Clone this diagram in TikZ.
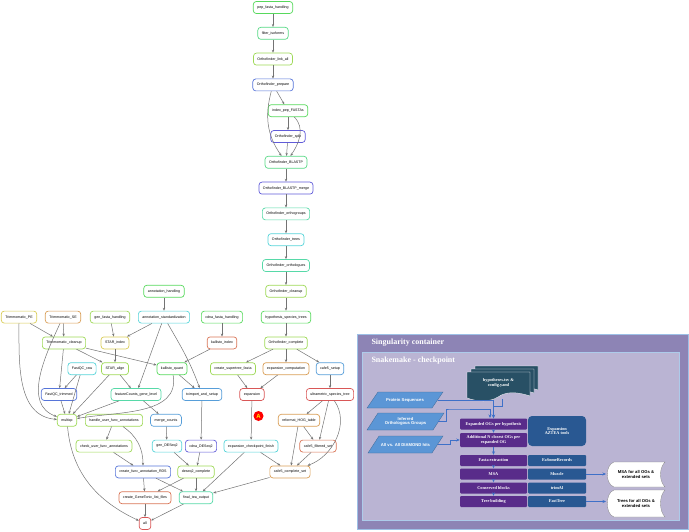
\documentclass[tikz,border=0pt]{standalone}
\usepackage{fontspec}
\newfontfamily\dagfont{Liberation Sans}
\newfontfamily\panelfont{Liberation Serif}
\usetikzlibrary{arrows.meta}

\definecolor{cgreen}{rgb}{0.34,0.85,0.36}
\definecolor{cspring}{rgb}{0.34,0.85,0.52}
\definecolor{caqua}{rgb}{0.34,0.85,0.66}
\definecolor{ccyan}{rgb}{0.34,0.83,0.85}
\definecolor{csky}{rgb}{0.34,0.62,0.85}
\definecolor{cblue}{rgb}{0.34,0.46,0.85}
\definecolor{cindigo}{rgb}{0.38,0.36,0.85}
\definecolor{cyg}{rgb}{0.62,0.85,0.34}
\definecolor{cyellow}{rgb}{0.85,0.80,0.34}
\definecolor{corange}{rgb}{0.85,0.62,0.34}
\definecolor{csalmon}{rgb}{0.85,0.46,0.34}
\definecolor{cred}{rgb}{0.85,0.34,0.34}
\definecolor{dagedge}{rgb}{0.45,0.45,0.45}
\definecolor{outerbg}{RGB}{141,132,181}
\definecolor{innerbg}{RGB}{186,180,211}
\definecolor{stepviolet}{RGB}{89,44,138}
\definecolor{toolblue}{RGB}{41,88,146}
\definecolor{inputblue}{RGB}{91,150,214}
\definecolor{docteal}{RGB}{40,80,101}
\definecolor{flowblue}{RGB}{62,112,200}

\tikzset{
  job/.style={draw=#1, line width=0.7pt, rounded corners=3pt, fill=white,
    font=\dagfont\fontsize{3.6}{4}\selectfont, minimum height=12pt,
    inner xsep=4pt, inner ysep=0pt},
  dep/.style={draw=dagedge, line width=0.5pt, -{Stealth[length=3pt,width=2.4pt]}},
  stepbox/.style={fill=stepviolet, rounded corners=1pt, text=white,
    font=\panelfont\bfseries\fontsize{4.3}{4.8}\selectfont, align=center,
    minimum width=67pt, minimum height=11pt, inner sep=0pt},
  toolbox/.style={stepbox, fill=toolblue, minimum width=58pt},
  inputshape/.style={fill=inputblue, draw=inputblue!70!black, line width=0.3pt},
  inputtext/.style={text=white, font=\dagfont\bfseries\fontsize{4.2}{4.8}\selectfont,
    align=center, minimum width=65pt, inner sep=0pt},
  outputbox/.style={text=black, font=\dagfont\bfseries\fontsize{4.2}{5}\selectfont,
    align=center},
  flow/.style={draw=flowblue, line width=0.6pt, -{Stealth[length=3.5pt,width=3pt]}},
}

\begin{document}
\begin{tikzpicture}[x=1pt,y=-1pt]
  \useasboundingbox (0,0) rectangle (689,532);

  \node[job=cgreen] (pepfasta) at (273,7.5) {pep\_fasta\_handling};
  \node[job=cspring] (filteriso) at (273,33.3) {filter\_isoforms};
  \node[job=cyg] (linkall) at (273,59.1) {Orthofinder\_link\_all};
  \node[job=cblue] (prepare) at (273,84.9) {Orthofinder\_prepare};
  \node[job=cgreen] (indexpep) at (288,110.7) {index\_pep\_FASTAs};
  \node[job=cindigo] (split) at (288,136.5) {Orthofinder\_split};
  \node[job=cspring] (blastp) at (286,162.3) {Orthofinder\_BLASTP};
  \node[job=cindigo] (merge) at (286,188.1) {Orthofinder\_BLASTP\_merge};
  \node[job=caqua] (ogroups) at (286,213.9) {Orthofinder\_orthogroups};
  \node[job=ccyan] (trees) at (286,239.7) {Orthofinder\_trees};
  \node[job=caqua] (ologues) at (286,265.5) {Orthofinder\_orthologues};
  \node[job=cyg] (cleanup) at (286,291.3) {Orthofinder\_cleanup};
  \node[job=cgreen] (hyptrees) at (286,317.1) {hypothesis\_species\_trees};
  \node[job=cyg] (complete) at (286,342.9) {Orthofinder\_complete};

  \node[job=cgreen] (annohand) at (164,291.3) {annotation\_handling};
  \node[job=ccyan] (annostd) at (164,317.1) {annotation\_standardization};
  \node[job=cyellow] (trimpe) at (19,317.1) {Trimmomatic\_PE};
  \node[job=corange] (trimse) at (63,317.1) {Trimmomatic\_SE};
  \node[job=cyg] (genfasta) at (110,317.1) {gen\_fasta\_handling};
  \node[job=cgreen] (cdnafasta) at (222,317.1) {cdna\_fasta\_handling};

  \node[job=cyg] (trimclean) at (64,342.9) {Trimmomatic\_cleanup};
  \node[job=cyellow] (starindex) at (115,342.9) {STAR\_index};
  \node[job=csalmon] (kalindex) at (222,342.9) {kallisto\_index};

  \node[job=ccyan] (fastqcraw) at (82,368.7) {FastQC\_raw};
  \node[job=cyg] (staralign) at (115,368.7) {STAR\_align};
  \node[job=cgreen] (kalquant) at (172,368.7) {kallisto\_quant};
  \node[job=cyg] (supertree) at (233,368.7) {create\_supertree\_fasta};
  \node[job=corange] (expcomp) at (286,368.7) {expansion\_computation};
  \node[job=csky] (cafesetup) at (330,368.7) {cafe5\_setup};

  \node[job=cblue] (fastqctrim) at (59,394.5) {FastQC\_trimmed};
  \node[job=caqua] (featcounts) at (136,394.5) {featureCounts\_gene\_level};
  \node[job=csky] (tximport) at (202,394.5) {tximport\_and\_setup};
  \node[job=cred] (expansion) at (252,394.5) {expansion};
  \node[job=cred] (ultra) at (330,394.5) {ultrametric\_species\_tree};

  \node[job=cyg] (multiqc) at (67,420.3) {multiqc};
  \node[job=cyg] (handleuser) at (114,420.3) {handle\_user\_func\_annotations};
  \node[job=csky] (mergecounts) at (166,420.3) {merge\_counts};
  \node[job=corange] (reformat) at (299,420.3) {reformat\_HOG\_table};

  \node[job=cyg] (checkuser) at (104,446.1) {check\_user\_func\_annotations};
  \node[job=ccyan] (gendeseq) at (167,446.1) {gen\_DESeq2};
  \node[job=cindigo] (cdnadeseq) at (201,446.1) {cdna\_DESeq2};
  \node[job=ccyan] (expfinish) at (251,446.1) {expansion\_checkpoint\_finish};
  \node[job=csalmon] (cafefilt) at (318,446.1) {cafe5\_filtered\_set};

  \node[job=cblue] (funcrds) at (143,471.9) {create\_func\_annotation\_RDS};
  \node[job=cyg] (deseqcomp) at (196,471.9) {deseq2\_complete};
  \node[job=corange] (cafecomp) at (290,471.9) {cafe5\_complete\_set};

  \node[job=csalmon] (genetonic) at (145,497.7) {create\_GeneTonic\_list\_files};
  \node[job=caqua] (finaltea) at (196,497.7) {final\_tea\_output};
  \node[job=cred] (all) at (145,523.5) {all};

  \foreach \a/\b in {pepfasta/filteriso, filteriso/linkall, linkall/prepare,
      prepare/indexpep, indexpep/split, split/blastp, blastp/merge,
      merge/ogroups, ogroups/trees, trees/ologues, ologues/cleanup,
      cleanup/hyptrees, hyptrees/complete, complete/supertree,
      complete/expcomp, complete/cafesetup, supertree/expansion,
      expcomp/expansion, cafesetup/ultra, expansion/expfinish,
      ultra/reformat, ultra/cafefilt, reformat/cafefilt, reformat/cafecomp,
      cafefilt/cafecomp, expfinish/cafecomp, expfinish/finaltea,
      cafecomp/finaltea, annohand/annostd, annostd/starindex,
      annostd/featcounts, genfasta/starindex, starindex/staralign,
      trimpe/trimclean, trimse/trimclean, trimclean/fastqctrim,
      trimclean/staralign, trimclean/kalquant, fastqcraw/fastqctrim,
      fastqcraw/multiqc, fastqctrim/multiqc, staralign/multiqc,
      staralign/featcounts, featcounts/multiqc, featcounts/mergecounts,
      cdnafasta/kalindex, kalindex/kalquant, kalquant/tximport,
      mergecounts/gendeseq, gendeseq/deseqcomp, tximport/cdnadeseq,
      cdnadeseq/deseqcomp, deseqcomp/finaltea, deseqcomp/genetonic,
      handleuser/checkuser, checkuser/funcrds, funcrds/genetonic,
      funcrds/finaltea, genetonic/all, finaltea/all}
    \draw[dep] (\a) -- (\b);

  \draw[dep] (prepare) to[out=-105,in=125] (blastp);
  \draw[dep] (indexpep) to[out=-45,in=55] (blastp);
  \draw[dep] (ultra) to[out=-55,in=20] (cafecomp);
  \draw[dep] (trimpe) to[out=-90,in=175] (multiqc);
  \draw[dep] (trimse) to[out=-115,in=160] (multiqc);
  \draw[dep] (kalquant) to[out=-80,in=10] (multiqc);
  \draw[dep] (annostd) to[out=-60,in=110] (tximport);
  \draw[dep] (handleuser) to[out=-35,in=90] (funcrds);
  \draw[dep] (multiqc) to[out=-85,in=155] (all);

  \node[circle, fill=red, text=yellow, inner sep=0pt, minimum size=10pt,
    font=\dagfont\bfseries\fontsize{6}{6}\selectfont] (marka) at (258.5,416) {A};

  % singularity panel
  \filldraw[fill=outerbg, draw=inputblue!60, line width=0.5pt] (357,334) rectangle (688,529);
  \node[anchor=west, text=white, font=\panelfont\bfseries\fontsize{8}{9}\selectfont]
    (singtitle) at (368,343) {Singularity container};
  \filldraw[fill=innerbg, draw=inputblue!50, line width=0.5pt] (362,352) rectangle (679,520);
  \node[anchor=west, text=white, font=\panelfont\bfseries\fontsize{8}{9}\selectfont]
    (snaketitle) at (368,361) {Snakemake - checkpoint};

  \foreach \d in {8,4,0}
    \filldraw[fill=docteal, draw=white, line width=0.3pt, shift={(\d,-0.75*\d)}]
      (467,372) -- (530,372) -- (530,396)
      .. controls (515,391) and (505,392) .. (498,397)
      .. controls (490,402) and (478,402) .. (467,398) -- cycle;
  \node[text=white, align=center, font=\panelfont\bfseries\fontsize{4.3}{5}\selectfont]
    (hyptext) at (498.5,383) {hypotheses.tsv \&\\config.yaml};
  \coordinate (hypout) at (502,399);

  \filldraw[inputshape] (367,408) -- (378,392) -- (443,392) -- (432,408) -- cycle;
  \node[inputtext] (protseq) at (405,400) {Protein Sequences};
  \filldraw[inputshape] (367,430) -- (378,413) -- (444,413) -- (433,430) -- cycle;
  \node[inputtext] (inferog) at (405.5,421.5) {Inferred\\Orthologous Groups};
  \filldraw[inputshape] (368,453) -- (379,436) -- (443,436) -- (432,453) -- cycle;
  \node[inputtext] (diamond) at (405.5,444.5) {All vs. All DIAMOND hits};

  \node[stepbox] (expog) at (493.5,424) {Expanded OGs per hypothesis};
  \node[stepbox, minimum height=14pt] (addog) at (493.5,440) {Additional N closest OGs per\\expanded OG};
  \node[toolbox, minimum height=30pt, rounded corners=4pt] (aztea) at (557,431) {Expansion\\AZTEA tools};

  \node[stepbox] (fasta) at (493.5,460.5) {Fasta extraction};
  \node[stepbox] (msa) at (493.5,474) {MSA};
  \node[stepbox] (blocks) at (493.5,488) {Conserved blocks};
  \node[stepbox] (treebuild) at (493.5,501.5) {Tree building};
  \node[toolbox] (fasome) at (557,460.5) {FaSomeRecords};
  \node[toolbox] (muscle) at (557,474) {Muscle};
  \node[toolbox] (trimal) at (557,488) {trimAl};
  \node[toolbox] (fasttree) at (557,501.5) {FastTree};

  \filldraw[fill=white, draw=gray, line width=0.3pt]
    (614,462) -- (665,462) .. controls (659,468) and (659,481) .. (665,487)
    -- (614,487) .. controls (605,484) and (605,465) .. (614,462) -- cycle;
  \node[outputbox] (msaout) at (636,474.5) {MSA for all OGs \&\\extended sets};
  \filldraw[fill=white, draw=gray, line width=0.3pt]
    (614,490) -- (665,490) .. controls (659,496) and (659,511) .. (665,517)
    -- (614,517) .. controls (605,514) and (605,493) .. (614,490) -- cycle;
  \node[outputbox] (treeout) at (636,503.5) {Trees for all OGs \&\\extended sets};

  \draw[flow] (hypout) -- (502,406) -| (expog.north);
  \draw[flow] (protseq.east) -- (expog.north |- protseq.east) -- (expog.north);
  \draw[flow] (inferog.east) -- ++(8,0) |- (450,409) -- (490,409) -- (490,418);
  \draw[flow] (diamond.east) -- ++(12,0) |- (addog.west);
  \draw[flow] (expog) -- (addog);
  \draw[flow] (addog) -- (fasta);
  \draw[flow] (fasta) -- (msa);
  \draw[flow] (msa) -- (blocks);
  \draw[flow] (blocks) -- (treebuild);
  \draw[flow] (muscle) -- (606,474);
  \draw[flow] (fasttree) -- (606,501.5);
\end{tikzpicture}
\end{document}
